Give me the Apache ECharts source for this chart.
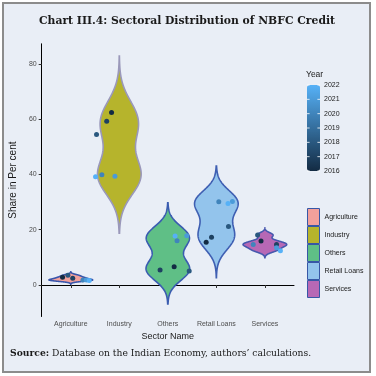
<!DOCTYPE html>
<html><head><meta charset="utf-8">
<script src="https://cdn.jsdelivr.net/npm/echarts@6/dist/echarts.min.js"></script>
<style>html,body{margin:0;padding:0;background:#fff}#c{width:376px;height:376px}</style>
</head><body><div id="c"></div>
<script>
// ---- data ----
const sectors = ['Agriculture', 'Industry', 'Others', 'Retail Loans', 'Services'];
const years = [2016, 2017, 2018, 2020, 2021, 2022];
const agriculture = [2.8, 2.4, 3.5, 1.8, 1.8, 1.6];
const industry = [62.4, 59.3, 54.5, 39.9, 39.4, 39.2];
const others = [6.6, 5.4, 5.1, 16.0, 17.8, 17.7];
const retailLoans = [15.5, 17.3, 21.2, 30.1, 30.2, 29.5];
const services = [15.9, 14.7, 18.1, 14.7, 13.5, 12.4];
// horizontal jitter of each point (category units)
const agricultureJitter = [-0.17, 0.04, -0.06, 0.25, 0.32, 0.38];
const industryJitter = [-0.16, -0.26, -0.47, -0.36, -0.09, -0.49];
const othersJitter = [0.13, -0.16, 0.44, 0.19, 0.39, 0.15];
const retailLoansJitter = [-0.21, -0.10, 0.25, 0.05, 0.33, 0.24];
const servicesJitter = [-0.08, 0.24, -0.15, -0.24, 0.24, 0.32];
const yTicks = [0, 20, 40, 60, 80];
const yearTicks = [2016, 2017, 2018, 2019, 2020, 2021, 2022];

// ---- styling ----
const fills = ['#f2a09b', '#b6b42c', '#5fbf86', '#93c4ec', '#b768b5'];
const strokes = ['#3a56ab', '#9a98ba', '#3a5cb0', '#3f5fb2', '#4658ae'];
const values = [agriculture, industry, others, retailLoans, services];
const jitters = [agricultureJitter, industryJitter, othersJitter, retailLoansJitter, servicesJitter];
const VW = 0.9;

function quantile(s, p) { const h = (s.length - 1) * p; const lo = Math.floor(h); const hi = Math.min(lo + 1, s.length - 1); return s[lo] + (h - lo) * (s[hi] - s[lo]); }
function bwNrd0(v) {
  const n = v.length; const m = v.reduce((a, b) => a + b, 0) / n;
  const sd = Math.sqrt(v.reduce((a, b) => a + (b - m) * (b - m), 0) / (n - 1));
  const s = [...v].sort((a, b) => a - b);
  let lo = Math.min(sd, (quantile(s, 0.75) - quantile(s, 0.25)) / 1.34);
  if (!(lo > 0)) lo = sd || 1;
  return 0.9 * lo * Math.pow(n, -0.2);
}
function violinProfile(v) {
  const bw = bwNrd0(v); const lo = Math.min(...v) - 3 * bw, hi = Math.max(...v) + 3 * bw;
  const N = 200, out = [];
  for (let i = 0; i < N; i++) {
    const y = lo + (hi - lo) * i / (N - 1); let d = 0;
    for (const x of v) { const z = (y - x) / bw; d += Math.exp(-0.5 * z * z); }
    out.push([y, d]);
  }
  const mx = Math.max(...out.map(p => p[1]));
  return out.map(p => [p[0], p[1] / mx]);
}
const profiles = values.map(violinProfile);

const violinSeries = sectors.map((name, k) => ({
  type: 'custom', name: name, z: 2,
  itemStyle: { color: fills[k], borderColor: '#3757a6', borderWidth: 1 },
  data: [[k + 1, values[k][0]]],
  renderItem: function (params, api) {
    const prof = profiles[k], cx = k + 1;
    const left = prof.map(p => api.coord([cx - p[1] * VW / 2, p[0]]));
    const right = prof.slice().reverse().map(p => api.coord([cx + p[1] * VW / 2, p[0]]));
    return { type: 'polygon', shape: { points: left.concat(right) },
      style: { fill: fills[k], stroke: strokes[k], lineWidth: 1.6 } };
  }
}));

const pts = [];
values.forEach((v, k) => v.forEach((y, i) => pts.push([k + 1 + jitters[k][i], y, years[i]])));

const SANS = "'Liberation Sans',Arial,sans-serif";
const barTop = 85, barH = 86, barL = 307, barW = 13;
const graphics = [
  { type: 'rect', z: -10, shape: { x: 3, y: 3, width: 367, height: 369 }, style: { fill: '#e9eef6', stroke: '#8c8c8c', lineWidth: 2 }, silent: true },
  { type: 'text', x: 187, y: 21, style: { text: 'Chart III.4: Sectoral Distribution of NBFC Credit', font: "bold 10.8px 'DejaVu Serif'", fill: '#1a1a1a', textAlign: 'center', textVerticalAlign: 'middle' } },
  { type: 'text', x: 10, y: 354, style: { text: '{b|Source:} Database on the Indian Economy, authors\u2019 calculations.', textVerticalAlign: 'middle',
      rich: { b: { font: "bold 9.2px 'DejaVu Serif'", fill: '#1a1a1a' } }, font: "9.2px 'DejaVu Serif'", fill: '#1a1a1a' } },
  { type: 'text', x: 306, y: 75, style: { text: 'Year', font: '8.5px ' + SANS, fill: '#1a1a1a', textVerticalAlign: 'middle' } }
];
yearTicks.forEach((yr, i) => {
  const y = barTop + barH - i * barH / (yearTicks.length - 1);
  graphics.push({ type: 'text', x: 324, y: y, z: 10, style: { text: String(yr), font: '7px ' + SANS, fill: '#1a1a1a', textVerticalAlign: 'middle' } });
  graphics.push({ type: 'line', z: 10, shape: { x1: barL, y1: y, x2: barL + 2.6, y2: y }, style: { stroke: '#fff', lineWidth: 0.8 } });
  graphics.push({ type: 'line', z: 10, shape: { x1: barL + barW - 2.6, y1: y, x2: barL + barW, y2: y }, style: { stroke: '#fff', lineWidth: 0.8 } });
});

const chart = echarts.init(document.getElementById('c'), null, { renderer: 'canvas' });
chart.setOption({
  backgroundColor: '#ffffff',
  animation: false,
  grid: { left: 34, right: 82, top: 43.8, bottom: 59.5, containLabel: false },
  xAxis: {
    type: 'value', min: 0.4, max: 5.6,
    name: 'Sector Name', nameLocation: 'middle', nameGap: 14,
    nameTextStyle: { fontFamily: SANS, fontSize: 9, color: '#1a1a1a' },
    axisLine: { show: true, lineStyle: { color: '#000', width: 1 } },
    axisTick: { show: true, length: 3, customValues: [1, 2, 3, 4, 5], lineStyle: { color: '#333' } },
    axisLabel: { customValues: [1, 2, 3, 4, 5], formatter: v => sectors[Math.round(v) - 1], fontFamily: SANS, fontSize: 7, color: '#4d4d4d', margin: 4 },
    splitLine: { show: false }
  },
  yAxis: {
    type: 'value', min: -11.4, max: 87.3,
    name: 'Share in Per cent', nameLocation: 'middle', nameGap: 17, nameRotate: 90,
    nameTextStyle: { fontFamily: SANS, fontSize: 10, color: '#1a1a1a' },
    axisLine: { show: true, lineStyle: { color: '#000', width: 1 } },
    axisTick: { show: true, length: 3, customValues: yTicks, lineStyle: { color: '#333' } },
    axisLabel: { customValues: yTicks, fontFamily: SANS, fontSize: 7, color: '#4d4d4d', margin: 5 },
    splitLine: { show: false }
  },
  legend: {
    orient: 'vertical', left: 307, top: 208, padding: 0, itemGap: 0, itemWidth: 12, itemHeight: 17,
    icon: 'rect', selectedMode: false,
    textStyle: { fontFamily: SANS, fontSize: 7, color: '#1a1a1a', padding: [0, 0, 0, 0] },
    data: sectors.map((s, k) => ({ name: s, itemStyle: { color: fills[k], borderColor: '#3757a6', borderWidth: 1 } }))
  },
  visualMap: {
    type: 'continuous', show: true, min: 2016, max: 2022, dimension: 2, seriesIndex: 5,
    left: barL, top: barTop, itemWidth: barW, itemHeight: barH, padding: 0,
    calculable: false, text: null, showLabel: false, hoverLink: false,
    inRange: { color: ['#132B43', '#56B1F7'] }
  },
  graphic: graphics,
  series: violinSeries.concat([{
    type: 'scatter', z: 5, symbolSize: 5, data: pts, itemStyle: { opacity: 1 }
  }])
});
</script></body></html>
